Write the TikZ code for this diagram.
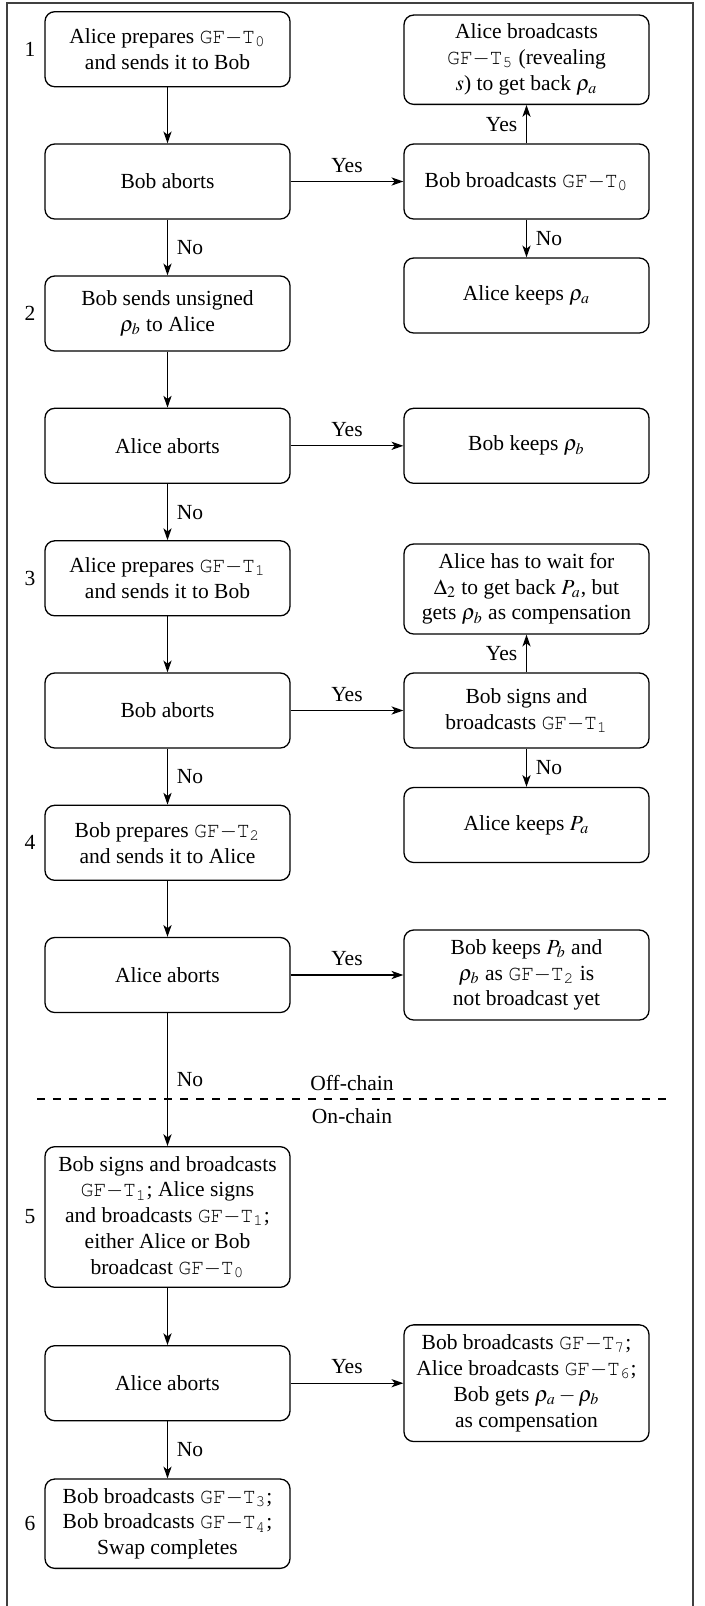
\documentclass[tikz,border=0pt]{standalone}
\usepackage{amsmath}
\usepackage{mathptmx}
\usepackage[T1]{fontenc}
\usepackage{fontspec}
\setmainfont{Liberation Serif}
\usetikzlibrary{arrows.meta}
\newlength\px \setlength\px{0.4645pt}
\newcommand\cour{\fontencoding{T1}\fontfamily{pcr}\selectfont}
\newcommand\gft[1]{{\cour GF}$-${\cour T}$_{\text{\cour #1}}$}
\begin{document}
\begin{tikzpicture}[x=0.4645pt,y=-0.4645pt,
  box/.style={draw, rounded corners=4.5pt, minimum width=245\px, align=center, inner sep=2pt, line width=0.6pt},
  arr/.style={-{Stealth[length=5.5pt,width=3.8pt,inset=1.5pt]}, line width=0.6pt},
  lbl/.style={inner sep=4pt},
  frame/.style={line width=0.5pt, black!75},
  sep/.style={line width=0.5pt, dash pattern=on 3.7pt off 3.7pt}]
\useasboundingbox (0,0) rectangle (705,1606);
\draw[frame] (7,1612) -- (7,3) -- (693,3) -- (693,1612);

% left column
\node[box, minimum height=75\px] (n1) at (167.5,49.2) {Alice prepares \gft0\\ and sends it to Bob};
\node[box, minimum height=75\px] (a1) at (167.5,181.5) {Bob aborts};
\node[box, minimum height=75\px] (n2) at (167.5,313.5) {Bob sends unsigned\\ $\rho_b$ to Alice};
\node[box, minimum height=75\px] (a2) at (167.5,445.8) {Alice aborts};
\node[box, minimum height=75\px] (n3) at (167.5,578.3) {Alice prepares \gft1\\ and sends it to Bob};
\node[box, minimum height=75\px] (a3) at (167.5,710.5) {Bob aborts};
\node[box, minimum height=75\px] (n4) at (167.5,842.8) {Bob prepares \gft2\\ and sends it to Alice};
\node[box, minimum height=75\px] (a4) at (167.5,975) {Alice aborts};
\node[box, minimum height=140.6\px] (n5) at (167.5,1217) {Bob signs and broadcasts\\ \gft1; Alice signs\\ and broadcasts \gft1;\\ either Alice or Bob\\ broadcast \gft0};
\node[box, minimum height=75\px] (a5) at (167.5,1383.2) {Alice aborts};
\node[box, minimum height=89.3\px] (n6) at (167.5,1523.7) {Bob broadcasts \gft3;\\ Bob broadcasts \gft4;\\ Swap completes};

% step numbers
\node (s1) at (30,49.2) {1};
\node (s2) at (30,313.5) {2};
\node (s3) at (30,578.3) {3};
\node (s4) at (30,842.8) {4};
\node (s5) at (30,1217) {5};
\node (s6) at (30,1523.7) {6};

% right column
\node[box, minimum height=89.3\px] (r1t) at (526.5,59.7) {Alice broadcasts\\ \gft5 (revealing\\ $s$) to get back $\rho_a$};
\node[box, minimum height=75\px] (r1) at (526.5,181.5) {Bob broadcasts \gft0};
\node[box, minimum height=75\px] (r1b) at (526.5,295.5) {Alice keeps $\rho_a$};
\node[box, minimum height=75\px] (r2) at (526.5,445.8) {Bob keeps $\rho_b$};
\node[box, minimum height=90\px] (r3t) at (526.5,589) {Alice has to wait for\\ $\Delta_2$ to get back $P_a$, but\\ gets $\rho_b$ as compensation};
\node[box, minimum height=75\px] (r3) at (526.5,710.5) {Bob signs and\\ broadcasts \gft1};
\node[box, minimum height=75\px] (r3b) at (526.5,825) {Alice keeps $P_a$};
\node[box, minimum height=90\px] (r4) at (526.5,975) {Bob keeps $P_b$ and\\ $\rho_b$ as \gft2 is\\ not broadcast yet};
\node[box, minimum height=116.7\px] (r5) at (526.5,1383.2) {Bob broadcasts \gft7;\\ Alice broadcasts \gft6;\\ Bob gets $\rho_a - \rho_b$\\ as compensation};

% connectors
\draw[arr] (n1) -- (a1);
\draw[arr] (a1) -- node[lbl,right]{No} (n2);
\draw[arr] (a1) -- node[lbl,above]{Yes} (r1);
\draw[arr] (r1) -- node[lbl,left]{Yes} (r1t);
\draw[arr] (r1) -- node[lbl,right]{No} (r1b);
\draw[arr] (n2) -- (a2);
\draw[arr] (a2) -- node[lbl,above]{Yes} (r2);
\draw[arr] (a2) -- node[lbl,right]{No} (n3);
\draw[arr] (n3) -- (a3);
\draw[arr] (a3) -- node[lbl,above]{Yes} (r3);
\draw[arr] (r3) -- node[lbl,left]{Yes} (r3t);
\draw[arr] (r3) -- node[lbl,right]{No} (r3b);
\draw[arr] (a3) -- node[lbl,right]{No} (n4);
\draw[arr] (n4) -- (a4);
\draw[arr] (a4) -- node[lbl,above]{Yes} (r4);
\draw[arr] (a4) -- node[lbl,right]{No} (n5);
\draw[arr] (n5) -- (a5);
\draw[arr] (a5) -- node[lbl,above]{Yes} (r5);
\draw[arr] (a5) -- node[lbl,right]{No} (n6);

% off-chain / on-chain separator
\coordinate (dl) at (37,1099);
\coordinate (dr) at (670,1099);
\draw[sep] (dl) -- (dr);
\node (off) at (352,1083) {Off-chain};
\node (on) at (352,1116) {On-chain};
\end{tikzpicture}
\end{document}
